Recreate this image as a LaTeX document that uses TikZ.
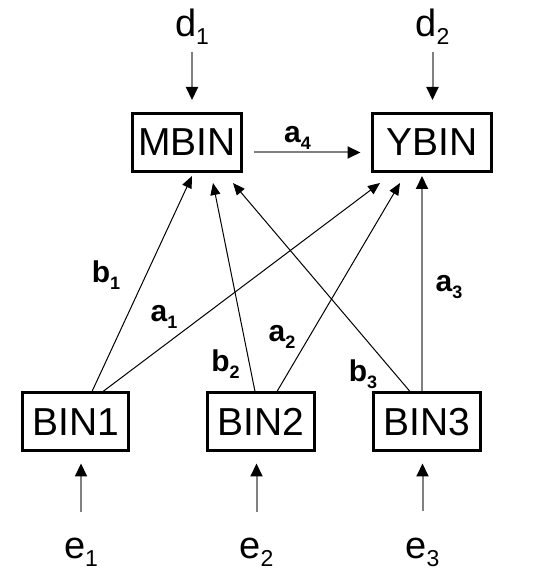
\documentclass[tikz,border=0pt]{standalone}
\usepackage{fontspec}
\setmainfont{Liberation Sans}
\usetikzlibrary{arrows.meta,calc}

\newcommand{\vsub}[1]{\raisebox{-8pt}{\fontsize{23}{23}\selectfont #1}}
\newcommand{\csub}[1]{\raisebox{-7pt}{\fontsize{18}{18}\selectfont\bfseries #1}}

\begin{document}
\begin{tikzpicture}[x=1pt,y=1pt,>={Triangle[length=12pt,width=10pt]},
 var/.style={draw,line width=3pt,minimum height=58pt,inner sep=0pt,font=\fontsize{39}{39}\selectfont},
 err/.style={inner sep=0pt,font=\fontsize{38}{38}\selectfont},
 lab/.style={inner sep=0pt,font=\bfseries\fontsize{30}{30}\selectfont},
 link/.style={->,line width=1pt},
 feed/.style={draw=black!50,line width=2pt,-{Triangle[length=13pt,width=12pt,color=black,fill=black]}}]
\useasboundingbox (0,0) rectangle (535,587);
% variables
\node[var,minimum width=109pt] (MBIN) at (187,444.5) {MBIN};
\node[var,minimum width=119pt] (YBIN) at (432,444.5) {YBIN};
\node[var,minimum width=106pt] (BIN1) at (75.5,165) {BIN1};
\node[var,minimum width=107pt] (BIN2) at (261,165) {BIN2};
\node[var,minimum width=107pt] (BIN3) at (427,165) {BIN3};
% disturbances
\node[err] (d1) at (192,560) {d\vsub{1}};
\node[err] (d2) at (432.5,560) {d\vsub{2}};
\node[err] (e1) at (81,35) {e\vsub{1}};
\node[err] (e2) at (256.5,35) {e\vsub{2}};
\node[err] (e3) at (422.5,35) {e\vsub{3}};
\draw[feed,shorten <=7pt,shorten >=12pt] (d1) -- (d1 |- MBIN.north);
\draw[feed,shorten <=7pt,shorten >=12pt] (d2) -- (d2 |- YBIN.north);
\draw[feed,shorten <=26pt,shorten >=11pt] (e1) -- (e1 |- BIN1.south);
\draw[feed,shorten <=26pt,shorten >=11pt] (e2) -- (e2 |- BIN2.south);
\draw[feed,shorten <=26pt,shorten >=11pt] (e3) -- (e3 |- BIN3.south);
% paths
\draw[feed,shorten <=10.5pt,shorten >=10.5pt] ([yshift=-10pt]MBIN.east) --
  node[lab,xshift=-9.5pt,yshift=14.5pt] {a\csub{4}} ([yshift=-10pt]YBIN.west);
\draw[link] ([xshift=16.5pt]BIN1.north) --
  node[lab,pos=.54,xshift=-40pt] {b\csub{1}} ([xshift=5pt,yshift=-3pt]MBIN.south);
\draw[link] ([xshift=27.5pt]BIN1.north) --
  node[lab,pos=.22,yshift=29pt] {a\csub{1}} ([xshift=-52pt,yshift=-10pt]YBIN.south);
\draw[link] ([xshift=-6pt]BIN2.north) --
  node[lab,pos=.13,xshift=-24pt] {b\csub{2}} ([xshift=26pt,yshift=-10pt]MBIN.south);
\draw[link] ([xshift=16pt]BIN2.north) --
  node[lab,pos=.26,xshift=-27pt] {a\csub{2}} ([xshift=-32pt,yshift=-10pt]YBIN.south);
\draw[link] ([xshift=-17pt]BIN3.north) --
  node[lab,pos=.085,xshift=-32pt] {b\csub{3}} ([xshift=46pt,yshift=-10pt]MBIN.south);
\draw[feed] ([xshift=-5pt]BIN3.north) --
  node[lab,pos=.484,xshift=27pt] {a\csub{3}} ([xshift=-10pt,yshift=-3pt]YBIN.south);
\end{tikzpicture}
\end{document}
